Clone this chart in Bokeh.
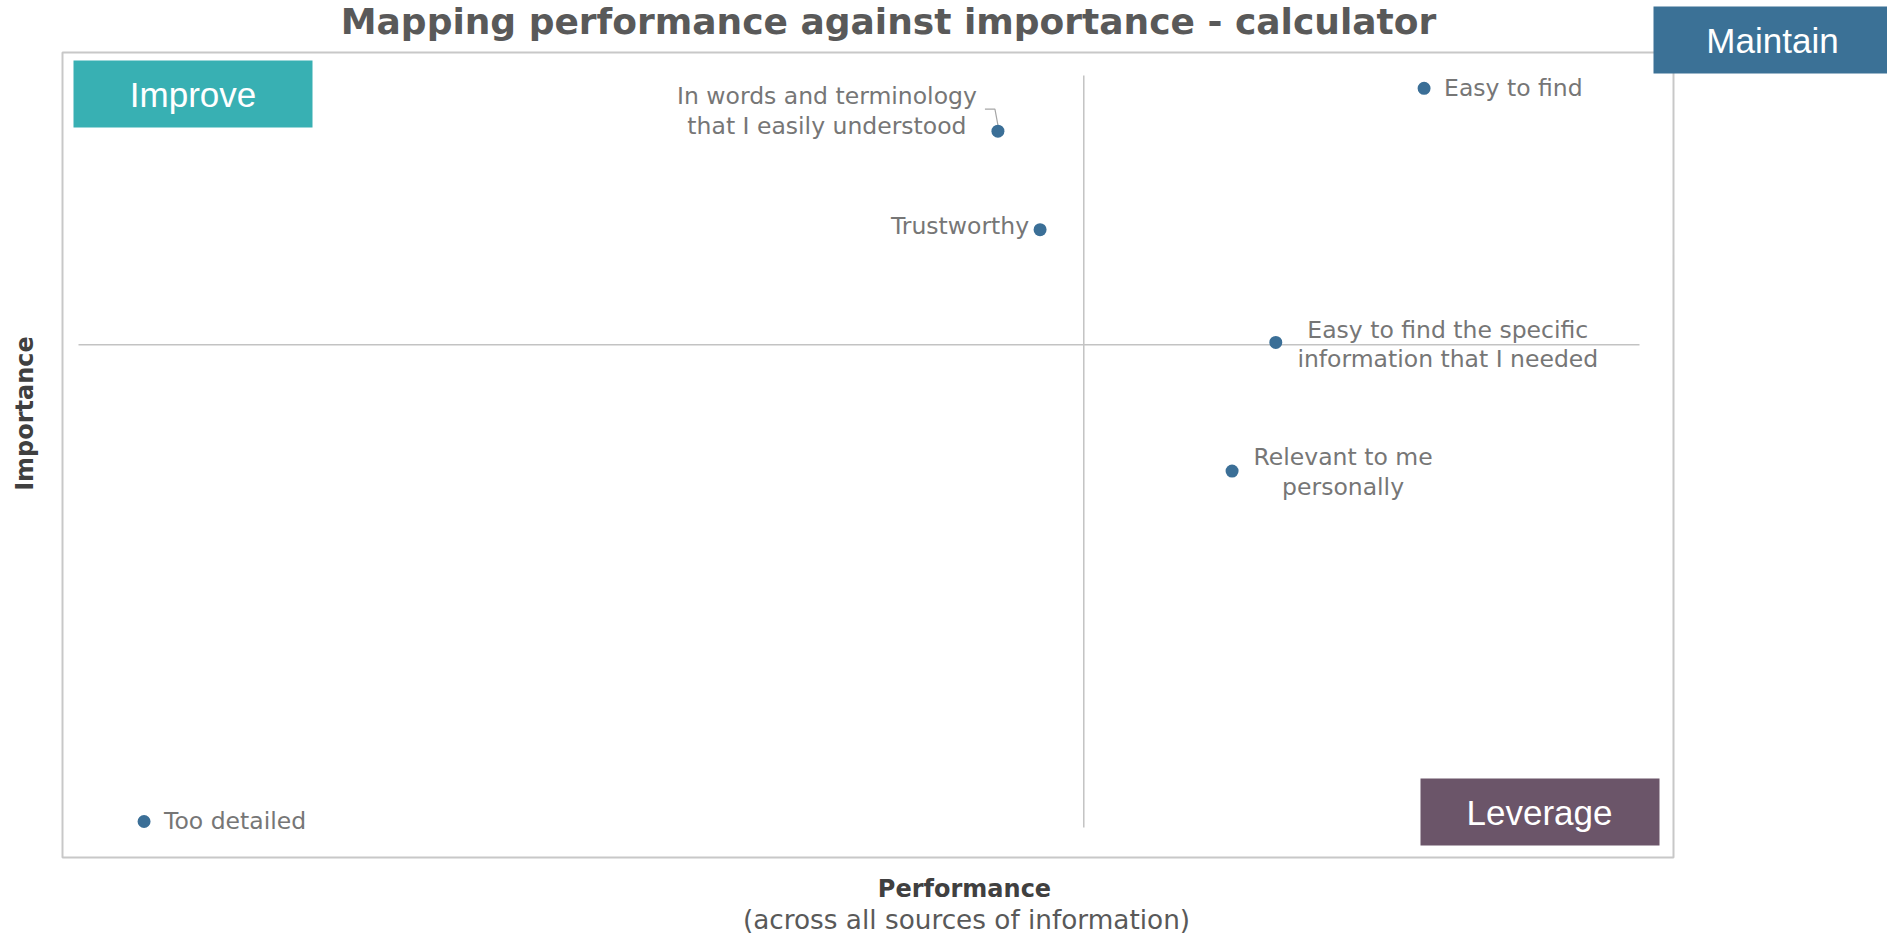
import math
from bokeh.plotting import figure
from bokeh.models import ColumnDataSource, Range1d
from bokeh.core.properties import value
from bokeh.embed import file_html
from bokeh.resources import INLINE

# ---------------- data ----------------
title_text = "Mapping performance against importance - calculator"
x_title = "Performance"
x_subtitle = "(across all sources of information)"
y_title = "Importance"

attributes = [
    "Easy to find",
    "In words and terminology\nthat I easily understood",
    "Trustworthy",
    "Easy to find the specific\ninformation that I needed",
    "Relevant to me\npersonally",
    "Too detailed",
]
performance = [86.2, 58.9, 61.6, 76.7, 73.9, 4.2]
importance = [98.3, 92.6, 79.5, 64.5, 47.4, 0.8]
performance_divider = 64.4
importance_divider = 64.2
axis_min, axis_max = 0, 100
quadrant_names = ["Improve", "Maintain", "Leverage"]

# ---------------- layout (page pixels) ----------------
W, H = 1887, 937
ORIGIN = 0
PLOT_LEFT, PLOT_RIGHT = 78, 1639
PLOT_TOP, PLOT_BOTTOM = 75, 827
sx = (PLOT_RIGHT - PLOT_LEFT) / (axis_max - axis_min)
sy = (PLOT_BOTTOM - PLOT_TOP) / (axis_max - axis_min)


def X(px):
    return axis_min + (px - PLOT_LEFT) / sx


def Y(py):
    return axis_min + (PLOT_BOTTOM - py) / sy


# label offsets in pixels (right / down) and alignment
label_dx = [20, -171, -11, 172, 111, 20]
label_dy = [0, -20, -4, 2, 1, 0]
label_align = ["left", "center", "right", "center", "center", "left"]

# quadrant boxes in page pixels: left, right, top, bottom
quad_boxes = [(73, 312, 60, 127), (1653, 1900, 6, 73), (1420, 1659, 778, 845)]
quad_text_pos = [(192.5, 94), (1772, 40), (1539, 812)]
quad_colors = ["#38B0B3", "#3B7196", "#6B5569"]

FRAME = (62, 1673, 52, 857)

BLUE = "#3B6F97"
LABEL_GREY = "#767676"

p = figure(
    width=W, height=H,
    x_range=Range1d(X(ORIGIN), X(ORIGIN + W)),
    y_range=Range1d(Y(ORIGIN + H), Y(ORIGIN)),
    x_axis_type=None, y_axis_type=None,
    toolbar_location=None, output_backend="svg",
    min_border=0, outline_line_color=None,
    background_fill_color="white", border_fill_color="white",
)

# outer frame
p.quad(left=[X(FRAME[0])], right=[X(FRAME[1])], top=[Y(FRAME[2])], bottom=[Y(FRAME[3])],
       fill_color=None, line_color="#C8C8C8", line_width=2)

# quadrant divider lines
p.segment(x0=[performance_divider, axis_min], y0=[axis_min, importance_divider],
          x1=[performance_divider, axis_max], y1=[axis_max, importance_divider],
          line_color="#C3C3C3", line_width=1.5)

# quadrant boxes
qsrc = ColumnDataSource(dict(
    left=[X(b[0]) for b in quad_boxes], right=[X(b[1]) for b in quad_boxes],
    top=[Y(b[2]) for b in quad_boxes], bottom=[Y(b[3]) for b in quad_boxes],
    color=quad_colors,
    tx=[X(t[0]) for t in quad_text_pos], ty=[Y(t[1]) for t in quad_text_pos],
    name=quadrant_names,
))
p.quad(left="left", right="right", top="top", bottom="bottom", fill_color="color",
       line_color=None, source=qsrc)
p.text(x="tx", y="ty", text="name", source=qsrc, text_color="white",
       text_font=value("Liberation Sans"), text_font_size="35px",
       text_align="center", text_baseline="middle")

# leader line for the long label
i = 1
lead = [(-13, -22), (-3, -22), (0, -6)]
p.line(x=[performance[i] + a / sx for a, b in lead], y=[importance[i] - b / sy for a, b in lead],
       line_color="#A6A6A6", line_width=1.2)

# points
src = ColumnDataSource(dict(
    x=performance, y=importance, name=attributes,
    lx=[performance[k] + label_dx[k] / sx for k in range(len(performance))],
    ly=[importance[k] - label_dy[k] / sy for k in range(len(importance))],
    align=label_align,
))
p.scatter(x="x", y="y", source=src, size=13, fill_color=BLUE, line_color=None)
p.text(x="lx", y="ly", text="name", source=src, text_align="align", text_baseline="middle",
       text_color=LABEL_GREY, text_font=value("DejaVu Sans"), text_font_size="23.5px",
       text_line_height=1.05)

# title
p.text(x=[X(888)], y=[Y(21)], text=[title_text], text_align="center", text_baseline="middle",
       text_color="#595959", text_font=value("DejaVu Sans"), text_font_style="bold",
       text_font_size="36px")

# axis titles
p.text(x=[X(964)], y=[Y(888)], text=[x_title], text_align="center", text_baseline="middle",
       text_color="#404040", text_font=value("DejaVu Sans"), text_font_style="bold",
       text_font_size="24px")
p.text(x=[X(966)], y=[Y(919)], text=[x_subtitle], text_align="center", text_baseline="middle",
       text_color="#595959", text_font=value("DejaVu Sans"), text_font_size="26.3px")
p.text(x=[X(24)], y=[Y(413)], text=[y_title], angle=math.pi / 2, text_align="center",
       text_baseline="middle", text_color="#404040", text_font=value("DejaVu Sans"),
       text_font_style="bold", text_font_size="24px")

open("out.html", "w").write(file_html(p, INLINE))
